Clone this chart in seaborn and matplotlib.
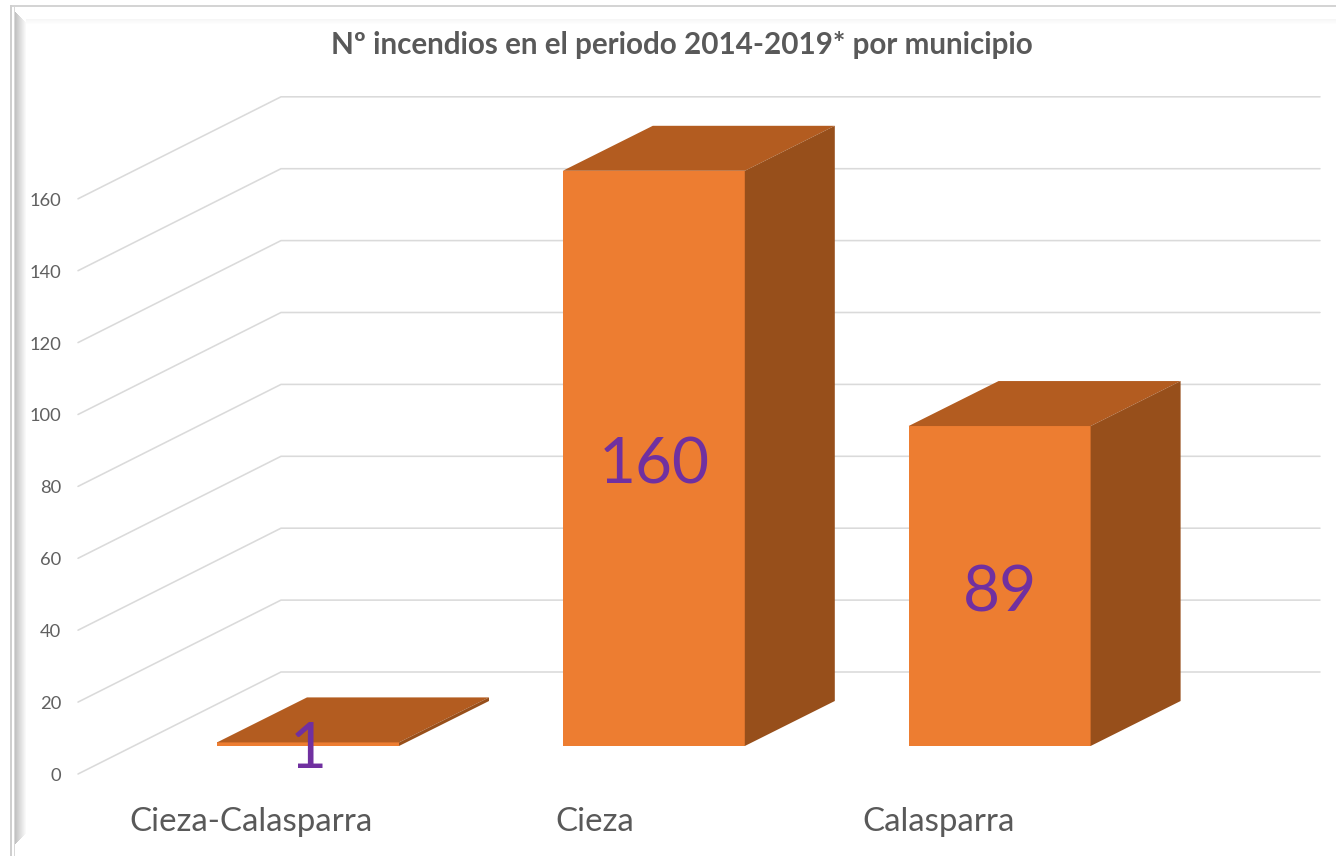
import numpy as np
import matplotlib
matplotlib.use("Agg")
import matplotlib.pyplot as plt
from matplotlib.patches import Polygon, Rectangle
import seaborn as sns

title = "Nº incendios en el periodo 2014-2019* por municipio"
categories = ["Cieza-Calasparra", "Cieza", "Calasparra"]
values = [1, 160, 89]
axis_ticks = [0, 20, 40, 60, 80, 100, 120, 140, 160]

W, H = 1336, 856
UNIT = 3.595      # pixels per value unit
BASE = 746        # pixel row of value 0 on the bars' front face
CAT0, CATSTEP = 308, 345.8

sns.set_theme(style="white")
plt.rcParams["font.family"] = ["Lato", "DejaVu Sans"]

fig = plt.figure(figsize=(W / 100, H / 100), dpi=100, facecolor="white")
ax = fig.add_axes([0, 0, 1, 1])

sns.barplot(x=categories, y=values, color="#ED7D31", saturation=1,
            width=182 / CATSTEP, ax=ax, zorder=3, linewidth=0)

ax.set_xlim((0 - CAT0) / CATSTEP, (W - CAT0) / CATSTEP)
ax.set_ylim((BASE - H) / UNIT, BASE / UNIT)
ax.axis("off")

def px_x(p):
    return (p - CAT0) / CATSTEP

def px_dy(p):
    return p / UNIT

# floor-plane shift of the value axis and of the back wall, in value units
front_shift = px_dy(BASE - 774)
back_shift = px_dy(BASE - 672)
for v in axis_ticks:
    ax.plot([px_x(78), px_x(281), px_x(1320)],
            [v + front_shift, v + back_shift, v + back_shift],
            color="#DADADA", lw=1.15, zorder=1, solid_joinstyle="miter")
    ax.text(px_x(61), v + px_dy(BASE - 776), str(v), ha="right", va="center",
            fontsize=13.2, color="#606060", zorder=5)

# depth faces of each bar, built from the bar the library drew
depth_x = 90 / CATSTEP
depth_y = px_dy(45)
for patch, val, i in zip(ax.patches[:len(values)], values, range(len(values))):
    x0, x1 = patch.get_x(), patch.get_x() + patch.get_width()
    y0, y1 = patch.get_y(), patch.get_y() + patch.get_height()
    ax.add_patch(Polygon([(x0, y1), (x1, y1), (x1 + depth_x, y1 + depth_y),
                          (x0 + depth_x, y1 + depth_y)],
                         closed=True, fc="#B35C20", ec="none", zorder=3))
    ax.add_patch(Polygon([(x1, y0), (x1 + depth_x, y0 + depth_y),
                          (x1 + depth_x, y1 + depth_y), (x1, y1)],
                         closed=True, fc="#974F1B", ec="none", zorder=3))
    ax.text((x0 + x1) / 2, y1 / 2 + px_dy(-7 if val > 1 else -6), str(val),
            ha="center", va="center", fontsize=46, color="#7030A0", zorder=6)
    ax.annotate(categories[i], xy=(i, 0),
                xytext=(px_x(251 + 344 * i), px_dy(BASE - 822)),
                textcoords="data", ha="center", va="center",
                fontsize=23.8, color="#595959", zorder=5)

ax.text(px_x(682), px_dy(BASE - 45), title, ha="center", va="center",
        fontsize=21.3, fontweight="bold", color="#595959", zorder=5)

# picture frame with bevel, in figure pixels
def frame_rect(x, y, w, h, color, alpha=1.0):
    fig.add_artist(Rectangle((x / W, 1 - (y + h) / H), w / W, h / H,
                             transform=fig.transFigure, fc=color, ec="none", alpha=alpha))

frame_rect(10, 5, W - 10, 2, "#D4D4D4")
frame_rect(10, 5, 2, H - 5, "#CFCFCF")
frame_rect(14, 7, 1, H - 7, "#D8D8D8")
for k, g in enumerate(np.linspace(0.76, 1.0, 12)):
    frame_rect(15 + k, 12 + k, 1, H - 24 - 2 * k, str(g))
for k, g in enumerate(np.linspace(0.965, 1.0, 6)):
    frame_rect(26, 19 + k, W - 26, 1, str(g))

fig.savefig("out.png", dpi=100)
